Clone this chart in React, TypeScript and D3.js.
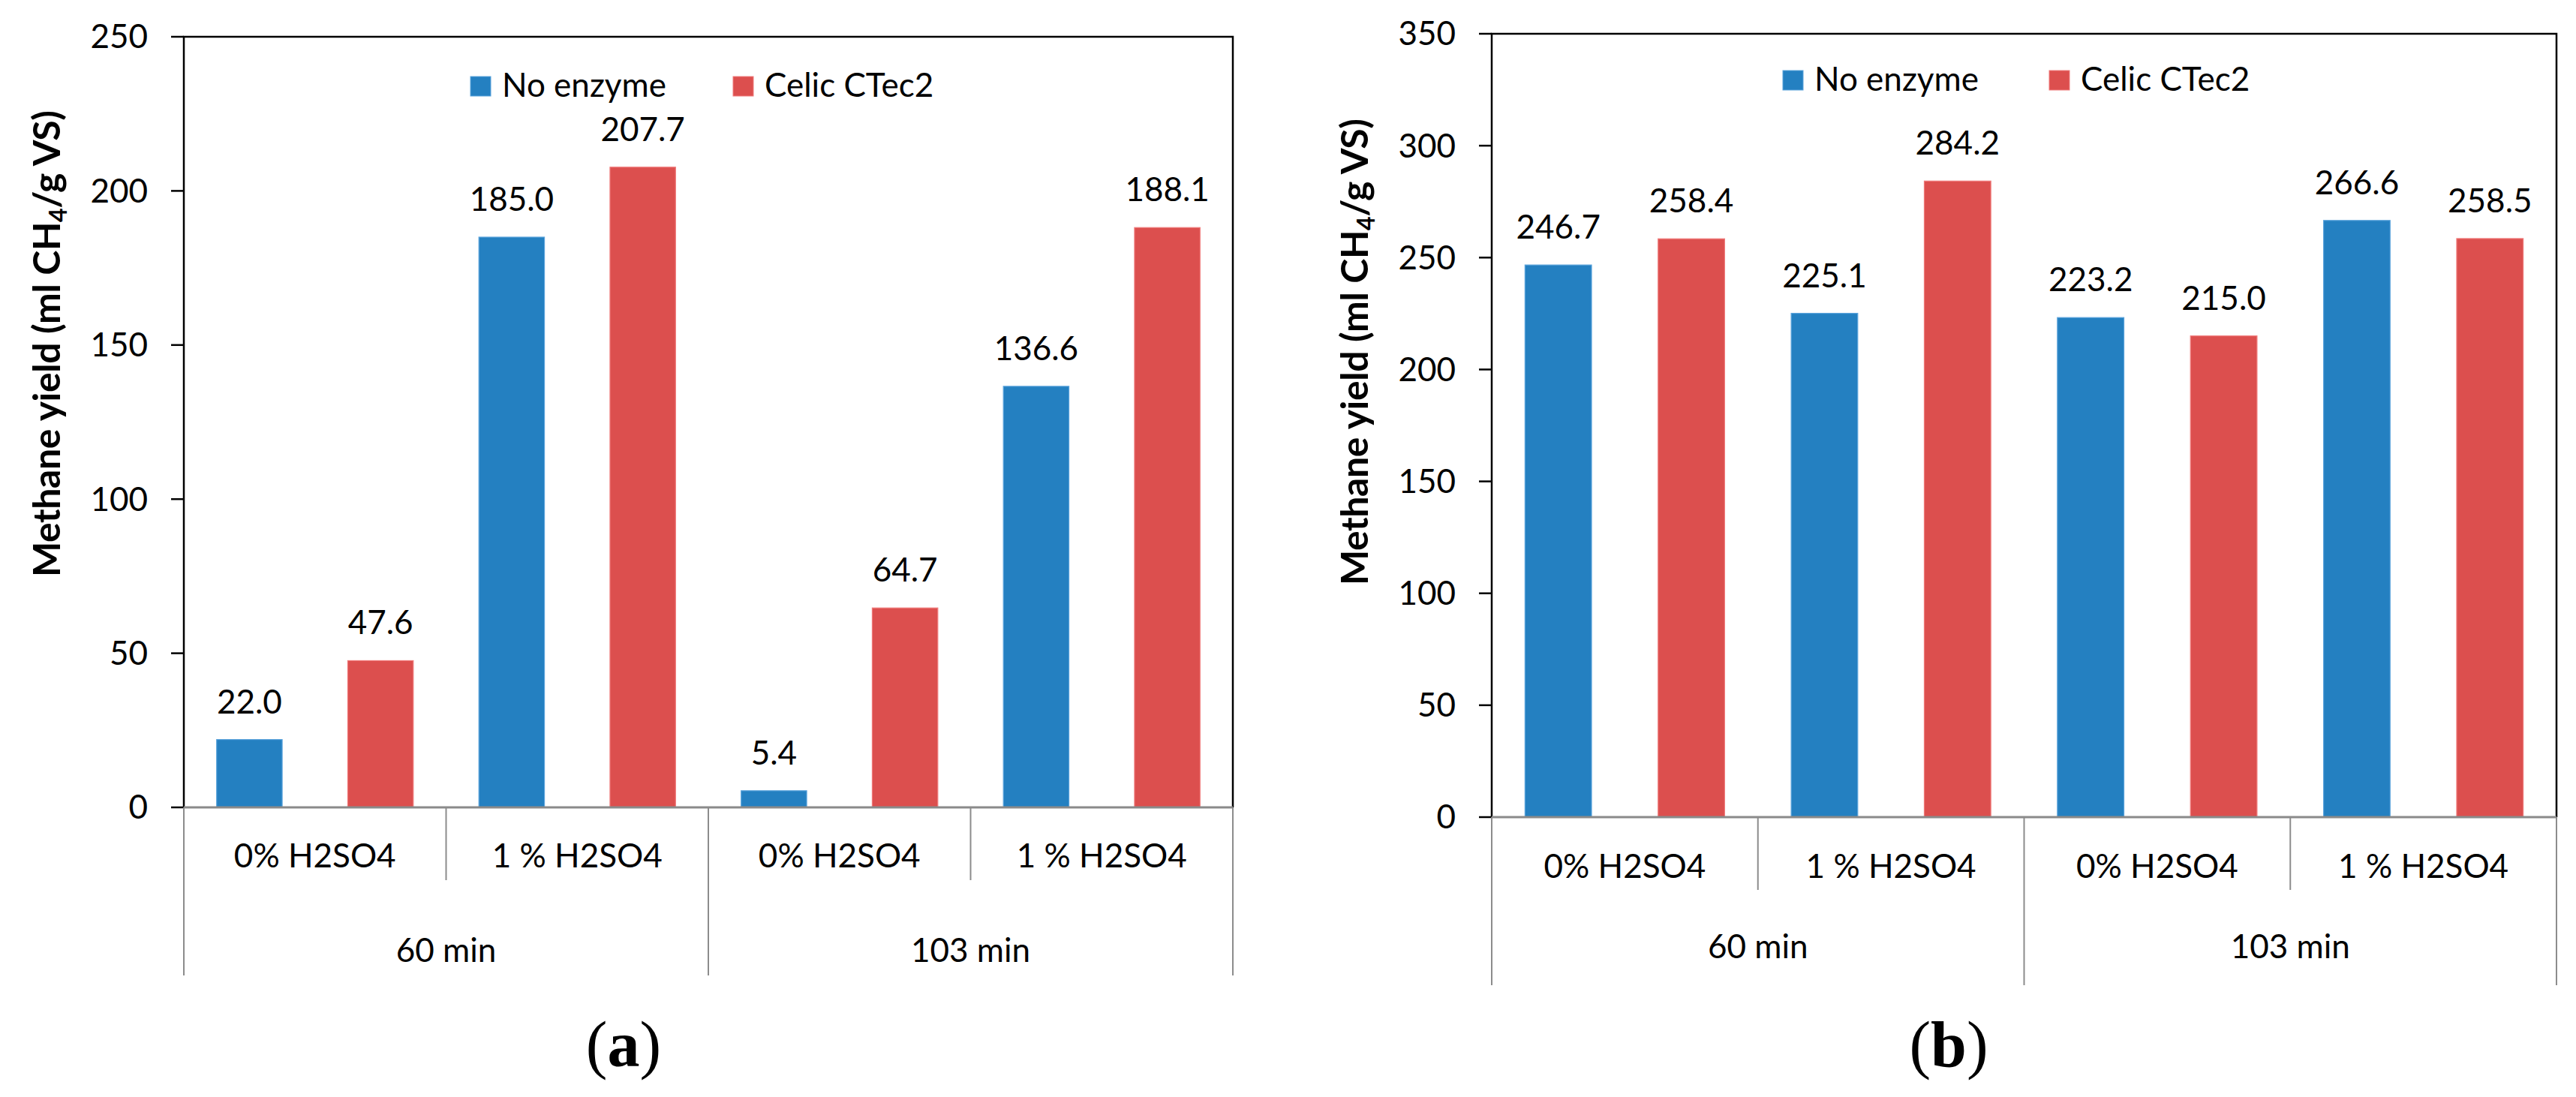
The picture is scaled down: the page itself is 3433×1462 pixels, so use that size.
import React from 'react';
import * as d3 from 'd3';

const subcategories = ['0% H2SO4', '1 % H2SO4', '0% H2SO4', '1 % H2SO4'];
const groups = ['60 min', '103 min'];
const seriesNames = ['No enzyme', 'Celic CTec2'];
const seriesColors = ['#2480c1', '#dc4f4e'];
const seriesStrokes = ['#5aa3dc', '#f07c7c'];

const noEnzymeA = [22.0, 185.0, 5.4, 136.6];
const celicA = [47.6, 207.7, 64.7, 188.1];
const noEnzymeB = [246.7, 225.1, 223.2, 266.6];
const celicB = [258.4, 284.2, 215.0, 258.5];

const yMaxA = 250;
const yMaxB = 350;

const FONT = 'Lato, "Open Sans", sans-serif';
const FS = 44;

interface PanelProps {
  series: number[][];
  yMax: number;
  x0: number;
  x1: number;
  yTop: number;
  yBase: number;
  subY: number;
  groupY: number;
  legendX: number[];
  legendY: number;
  titleX: number;
  titleY: number;
  caption: string;
  captionX: number;
}

const Panel: React.FC<PanelProps> = ({
  series, yMax, x0, x1, yTop, yBase, subY, groupY, legendX, legendY, titleX, titleY, caption, captionX,
}) => {
  const y = d3.scaleLinear().domain([0, yMax]).range([yBase, yTop]);
  const x = d3.scaleBand<number>().domain(d3.range(subcategories.length)).range([x0, x1]);
  const xs = d3.scaleBand<number>()
    .domain(d3.range(seriesNames.length))
    .range([0, x.bandwidth()])
    .paddingInner(0.5)
    .paddingOuter(0.25);
  const step = x.bandwidth();
  const groupSize = subcategories.length / groups.length;

  return (
    <g>
      {/* bars */}
      {series.map((vals, s) =>
        vals.map((v, i) => (
          <rect
            key={`b${s}-${i}`}
            x={(x(i) ?? 0) + (xs(s) ?? 0)}
            y={y(v)}
            width={xs.bandwidth()}
            height={yBase - y(v)}
            fill={seriesColors[s]}
            stroke={seriesStrokes[s]}
            strokeWidth={1.2}
          />
        ))
      )}
      {/* data labels */}
      {series.map((vals, s) =>
        vals.map((v, i) => (
          <text
            key={`l${s}-${i}`}
            x={(x(i) ?? 0) + (xs(s) ?? 0) + xs.bandwidth() / 2}
            y={y(v) - 35}
            textAnchor="middle"
            fontFamily={FONT}
            fontSize={FS}
            fill="#000"
          >
            {v.toFixed(1)}
          </text>
        ))
      )}
      {/* plot border: left, top, right */}
      <path
        d={`M${x0},${yBase}V${yTop}H${x1}V${yBase}`}
        fill="none"
        stroke="#000"
        strokeWidth={2.5}
      />
      {/* y ticks */}
      {y.ticks(yMax / 50).map((t) => (
        <g key={`t${t}`}>
          <line x1={x0 - 17} x2={x0} y1={y(t)} y2={y(t)} stroke="#000" strokeWidth={2.5} />
          <text
            x={x0 - 48}
            y={y(t)}
            dy="0.35em"
            textAnchor="end"
            fontFamily={FONT}
            fontSize={FS}
            fill="#000"
          >
            {t}
          </text>
        </g>
      ))}
      {/* category axis */}
      <line x1={x0} x2={x1} y1={yBase} y2={yBase} stroke="#8a8a8a" strokeWidth={2.8} />
      {d3.range(subcategories.length + 1).map((i) => {
        const outer = i % groupSize === 0;
        const xx = x0 + i * step;
        return (
          <line
            key={`d${i}`}
            x1={xx}
            x2={xx}
            y1={yBase}
            y2={yBase + (outer ? 224 : 97)}
            stroke="#8c8c8c"
            strokeWidth={2}
          />
        );
      })}
      {subcategories.map((c, i) => (
        <text
          key={`s${i}`}
          x={(x(i) ?? 0) + step / 2}
          y={subY}
          dy="0.35em"
          textAnchor="middle"
          fontFamily={FONT}
          fontSize={FS}
          fill="#000"
        >
          {c}
        </text>
      ))}
      {groups.map((g, j) => (
        <text
          key={`g${j}`}
          x={x0 + (j + 0.5) * groupSize * step}
          y={groupY}
          dy="0.35em"
          textAnchor="middle"
          fontFamily={FONT}
          fontSize={FS}
          fill="#000"
        >
          {g}
        </text>
      ))}
      {/* legend */}
      {seriesNames.map((n, s) => (
        <g key={`lg${s}`} transform={`translate(${legendX[s]},${legendY})`}>
          <rect x={0} y={-27} width={27} height={26} fill={seriesColors[s]} stroke={seriesStrokes[s]} strokeWidth={1} />
          <text x={42} y={0} fontFamily={FONT} fontSize={FS} fill="#000">
            {n}
          </text>
        </g>
      ))}
      {/* y title */}
      <text
        transform={`translate(${titleX},${titleY}) rotate(-90)`}
        textAnchor="middle"
        fontFamily={FONT}
        fontWeight="bold"
        fontSize={50}
        textLength={622}
        lengthAdjust="spacing"
        fill="#000"
      >
        Methane yield (ml CH
        <tspan fontSize={32} dy={9}>4</tspan>
        <tspan dy={-9}>/g VS)</tspan>
      </text>
      {/* caption */}
      <text
        x={captionX}
        y={1421}
        textAnchor="middle"
        fontFamily='"Liberation Serif", "Times New Roman", serif'
        fontSize={86}
        fill="#000"
      >
        (<tspan fontWeight="bold">{caption}</tspan>)
      </text>
    </g>
  );
};

const App: React.FC = () => (
  <svg
    width={3433}
    height={1462}
    viewBox="0 0 3433 1462"
    style={{ position: 'absolute', left: 0, top: 0, background: '#fff' }}
  >
    <rect width={3433} height={1462} fill="#fff" />
    <Panel
      series={[noEnzymeA, celicA]}
      yMax={yMaxA}
      x0={245}
      x1={1643}
      yTop={49}
      yBase={1076}
      subY={1141}
      groupY={1267}
      legendX={[627, 977]}
      legendY={129}
      titleX={80}
      titleY={458}
      caption="a"
      captionX={831}
    />
    <Panel
      series={[noEnzymeB, celicB]}
      yMax={yMaxB}
      x0={1988}
      x1={3407}
      yTop={45}
      yBase={1089}
      subY={1155}
      groupY={1262}
      legendX={[2376, 2731]}
      legendY={121}
      titleX={1823}
      titleY={469}
      caption="b"
      captionX={2597}
    />
  </svg>
);

export default App;
